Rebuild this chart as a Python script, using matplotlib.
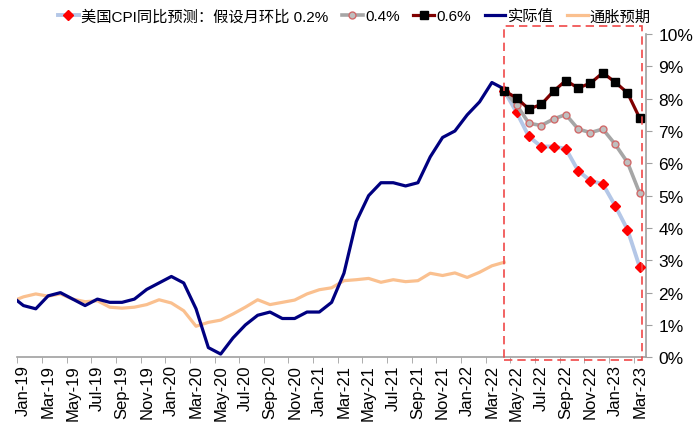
import numpy as np
import pandas as pd
import matplotlib
matplotlib.use("Agg")
from matplotlib import pyplot as plt
from matplotlib.patches import Rectangle

plt.rcParams['font.family'] = ['Liberation Sans', 'Noto Sans CJK SC', 'DejaVu Sans']

# month labels Jan-19 .. Mar-23
months = pd.date_range("2019-01-01", "2023-03-01", freq="MS").strftime("%b-%y").tolist()

# value for Dec-18 (only partly visible at the left edge)
actual_prev = 1.9
expect_prev = 1.72

# US CPI yoy, Jan-19 .. Apr-22
actual = [1.6, 1.5, 1.9, 2.0, 1.8, 1.6, 1.8, 1.7, 1.7, 1.8, 2.1, 2.3,
          2.5, 2.3, 1.5, 0.3, 0.1, 0.6, 1.0, 1.3, 1.4, 1.2, 1.2, 1.4,
          1.4, 1.7, 2.6, 4.2, 5.0, 5.4, 5.4, 5.3, 5.4, 6.2, 6.8, 7.0,
          7.5, 7.9, 8.5, 8.3]

# inflation expectations, Jan-19 .. Apr-22
expect = [1.87, 1.96, 1.89, 1.96, 1.80, 1.72, 1.75, 1.55, 1.52, 1.55, 1.63, 1.78,
          1.68, 1.44, 0.96, 1.08, 1.15, 1.34, 1.55, 1.78, 1.63, 1.70, 1.77, 1.96,
          2.09, 2.15, 2.37, 2.40, 2.44, 2.32, 2.40, 2.34, 2.37, 2.60, 2.53, 2.61,
          2.47, 2.63, 2.83, 2.94]

# projections Apr-22 .. Mar-23
proj_02 = [8.25, 7.58, 6.83, 6.52, 6.52, 6.45, 5.77, 5.46, 5.36, 4.69, 3.95, 2.78]
proj_04 = [8.25, 7.81, 7.24, 7.17, 7.37, 7.51, 7.06, 6.95, 7.06, 6.59, 6.03, 5.07]
proj_06 = [8.25, 8.02, 7.68, 7.82, 8.23, 8.56, 8.33, 8.48, 8.80, 8.51, 8.18, 7.39]

n = len(months)
x_hist = np.arange(-1, len(actual))
x_proj = np.arange(len(actual) - 1, n)

fig = plt.figure(figsize=(7, 4.27), dpi=100)
ax = fig.add_axes([0.0247, 0.1609, 0.8981, 0.7571])

ax.plot(x_hist, [actual_prev] + actual, color="#000080", lw=2.3, label="实际值", zorder=3)
ax.plot(x_hist, [expect_prev] + expect, color="#FAC08F", lw=2.3, label="通胀预期", zorder=2)
ax.plot(x_proj, proj_02, color="#B4C7E7", lw=2.8, marker="D", ms=5, mfc="#FF0000", mec="#FF0000",
        label="美国CPI同比预测：假设月环比 0.2%", zorder=4)
ax.plot(x_proj, proj_04, color="#A6A6A6", lw=2.6, marker="o", ms=5, mfc="#BFBFBF", mec="#D06A6A",
        mew=1.0, label="0.4%", zorder=5)
ax.plot(x_proj, proj_06, color="#800000", lw=2.3, marker="s", ms=5.5, mfc="black", mec="black",
        label="0.6%", zorder=6)

# dashed box around the forecast period
ax.add_patch(Rectangle((38.95, -0.08), 50.2 - 38.95, 10.33, fill=False, ec="#F04848",
                       ls=(0, (5, 3)), lw=1.2, clip_on=False, zorder=7))

ax.set_xlim(-0.5, n - 0.5)
ax.set_ylim(0, 10)

ax.spines["left"].set_visible(False)
ax.spines["top"].set_visible(False)
for s in ["right", "bottom"]:
    ax.spines[s].set_color("#A0A0A0")
    ax.spines[s].set_linewidth(1.2)

ax.yaxis.tick_right()
ax.set_yticks(range(0, 11))
ax.set_yticklabels([f"{v}%" for v in range(0, 11)])
ax.tick_params(axis="y", direction="out", length=4, color="#A0A0A0", pad=5, labelsize=12.5)

centers = np.arange(0, n, 2)
ax.set_xticks(centers)
ax.set_xticklabels([months[i] for i in centers], rotation=90)
ax.tick_params(axis="x", which="major", length=0, pad=5, labelsize=12)
ax.set_xticks(centers - 0.5, minor=True)
ax.tick_params(axis="x", which="minor", direction="out", length=4, color="#A0A0A0")

handles, labels = ax.get_legend_handles_labels()
order = [2, 3, 4, 0, 1]
fig.legend([handles[i] for i in order], [labels[i] for i in order], loc="center",
           bbox_to_anchor=(0.5064, 0.960), ncol=5, frameon=False, fontsize=11,
           handlelength=1.35, handletextpad=0.15, columnspacing=0.9, borderaxespad=0)

fig.savefig("out.png", dpi=100)
